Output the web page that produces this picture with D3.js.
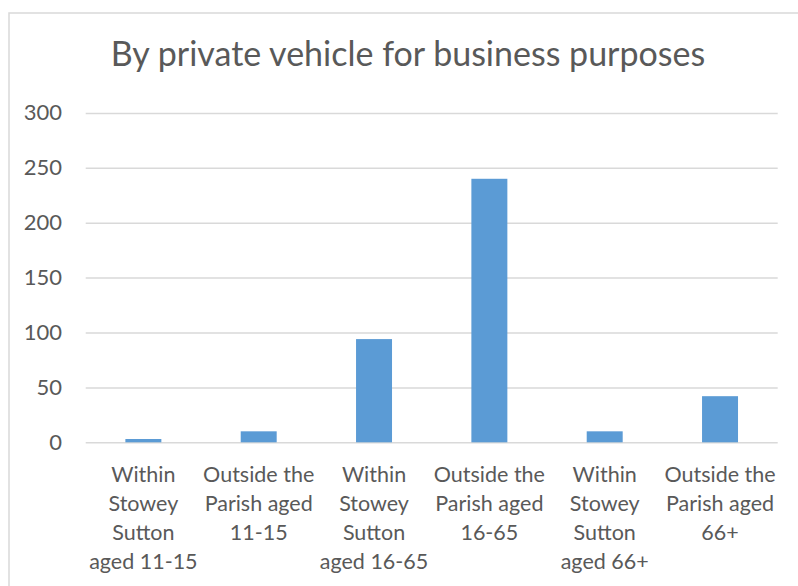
<!DOCTYPE html>
<html><head><meta charset="utf-8">
<script src="https://cdn.jsdelivr.net/npm/d3@7"></script>
<style>body{margin:0;background:#fff;} text{font-family:Lato,"Open Sans",sans-serif;fill:#595959;}</style>
</head><body>
<svg id="c" width="798" height="586"></svg>
<script>
const categories = [
  ["Within","Stowey","Sutton","aged 11-15"],
  ["Outside the","Parish aged","11-15"],
  ["Within","Stowey","Sutton","aged 16-65"],
  ["Outside the","Parish aged","16-65"],
  ["Within","Stowey","Sutton","aged 66+"],
  ["Outside the","Parish aged","66+"]
];
const values = [3, 10, 94, 240, 10, 42];
const yTicks = [0, 50, 100, 150, 200, 250, 300];
const title = "By private vehicle for business purposes";

const svg = d3.select("#c");
svg.append("rect").attr("x",9).attr("y",13).attr("width",800).attr("height",590)
  .attr("fill","#fff").attr("stroke","#d9d9d9").attr("stroke-width",1.5);

const pLeft = 85.7, pRight = 777.7, pTop = 112.9, pBottom = 442.3;
const x = d3.scaleBand().domain(d3.range(categories.length)).range([pLeft,pRight])
  .paddingInner(0.688).paddingOuter(0.344);
const y = d3.scaleLinear().domain([0,300]).range([pBottom,pTop]);

svg.append("text").attr("x",408).attr("y",66).attr("text-anchor","middle")
  .style("font-size","34px").text(title);

const yAxis = d3.axisLeft(y).tickValues(yTicks).tickSize(-(pRight-pLeft)).tickPadding(23.7);
const gy = svg.append("g").attr("transform",`translate(${pLeft},0)`).call(yAxis);
gy.select(".domain").remove();
gy.selectAll(".tick line").attr("stroke","#d9d9d9").attr("stroke-width",1.5);
gy.selectAll(".tick text").style("font-size","22px").attr("fill","#595959");

svg.append("g").selectAll("rect").data(values).join("rect")
  .attr("x",(d,i)=>x(i)).attr("width",x.bandwidth())
  .attr("y",d=>y(d)).attr("height",d=>y(0)-y(d)).attr("fill","#5b9bd5");

const gx = svg.append("g");
categories.forEach((lines,i)=>{
  const cx = x(i)+x.bandwidth()/2;
  const t = gx.append("text").attr("text-anchor","middle")
    .attr("x", cx).attr("y", 482).style("font-size","21.5px");
  lines.forEach((l,j)=>t.append("tspan").attr("x",cx).attr("dy", j?29:0).text(l));
});
</script>
</body></html>
